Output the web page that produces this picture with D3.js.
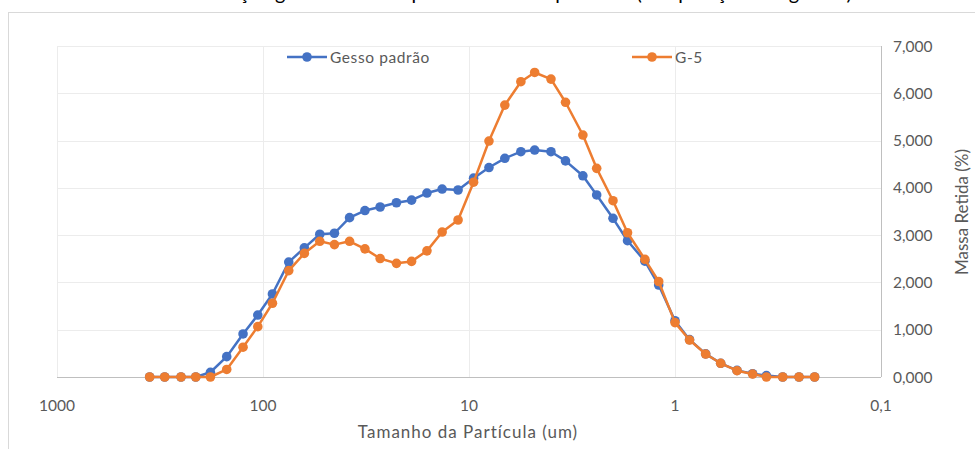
<!DOCTYPE html>
<html>
<head>
<meta charset="utf-8">
<script src="https://cdn.jsdelivr.net/npm/d3@7"></script>
<style>
  body { margin: 0; background: #fff; }
  svg { font-family: Lato, "Open Sans", sans-serif; }
</style>
</head>
<body>
<div class="chart"></div>
<script>
// particle size bins (um)
const sizes = [355, 300, 250, 212, 180, 150, 125, 106, 90, 75, 63, 53, 45, 38, 32, 27, 22.5, 19, 16, 13.5,
  11.3, 9.5, 8, 6.7, 5.6, 4.8, 4, 3.4, 2.8, 2.4, 2, 1.7, 1.4, 1.2, 1, 0.85, 0.71, 0.6, 0.5, 0.42,
  0.36, 0.3, 0.25, 0.21];

const gessoPadrao = [0, 0, 0, 0, 0.10, 0.43, 0.91, 1.31, 1.755, 2.43, 2.73, 3.02, 3.04, 3.37, 3.52, 3.595, 3.685, 3.74, 3.89, 3.975,
  3.955, 4.205, 4.43, 4.625, 4.765, 4.80, 4.765, 4.57, 4.255, 3.85, 3.356, 2.882, 2.45, 1.945, 1.19, 0.79, 0.49, 0.29, 0.14, 0.07,
  0.03, 0, 0, 0];

const g5 = [0, 0, 0, 0, 0, 0.16, 0.63, 1.065, 1.56, 2.25, 2.615, 2.87, 2.80, 2.87, 2.71, 2.505, 2.404, 2.445, 2.668, 3.065,
  3.32, 4.12, 4.99, 5.75, 6.245, 6.44, 6.30, 5.81, 5.117, 4.413, 3.728, 3.051, 2.489, 2.02, 1.15, 0.782, 0.486, 0.29, 0.133, 0.063,
  0, 0, 0, 0];

const seriesNames = ["Gesso padrão", "G-5"];
const seriesColors = ["#4472C4", "#ED7D31"];
const xTicks = [1000, 100, 10, 1, 0.1];
const yTicks = [0, 1, 2, 3, 4, 5, 6, 7];

const width = 975, height = 449;
const ptBR = d3.formatLocale({decimal: ",", thousands: ".", grouping: [3], currency: ["R$", ""]});
const yFmt = ptBR.format(".3f");
const xFmt = d => ptBR.format("~g")(d);

const svg = d3.select('.chart')
  .append('svg')
  .attr('width', width)
  .attr('height', height);

// chart frame
svg.append("rect")
  .attr("x", 8.5).attr("y", 12.5)
  .attr("width", width + 10).attr("height", height)
  .attr("fill", "none").attr("stroke", "#d9d9d9");

// title, cut off at the top like in the source picture
svg.append("text")
  .attr("x", 508).attr("y", 0)
  .attr("text-anchor", "middle")
  .attr("font-size", "20px")
  .attr("fill", "#000")
  .text("Distribuição granulométrica por tamanho de partícula (comparação dos gessos)");

const x = d3.scaleLog().domain([1000, 0.1]).range([57, 881]);
const y = d3.scaleLinear().domain([0, 7]).range([377, 46]);

// gridlines
svg.append("g")
  .selectAll("line")
  .data(yTicks.slice(1))
  .enter()
  .append("line")
  .attr("x1", x(1000)).attr("x2", x(0.1))
  .attr("y1", d => Math.round(y(d)) + 0.5).attr("y2", d => Math.round(y(d)) + 0.5)
  .attr("stroke", "#ececec");

svg.append("g")
  .selectAll("line")
  .data(xTicks.slice(0, 4))
  .enter()
  .append("line")
  .attr("x1", d => Math.round(x(d)) + 0.5).attr("x2", d => Math.round(x(d)) + 0.5)
  .attr("y1", y(7)).attr("y2", y(0))
  .attr("stroke", "#ececec");

// axes lines
svg.append("line")
  .attr("x1", x(1000)).attr("x2", x(0.1))
  .attr("y1", Math.round(y(0)) + 0.5).attr("y2", Math.round(y(0)) + 0.5)
  .attr("stroke", "#bfbfbf");
svg.append("line")
  .attr("x1", Math.round(x(0.1)) + 0.5).attr("x2", Math.round(x(0.1)) + 0.5)
  .attr("y1", y(7)).attr("y2", y(0))
  .attr("stroke", "#bfbfbf");

// tick labels
svg.append("g")
  .selectAll("text")
  .data(yTicks)
  .enter()
  .append("text")
  .attr("x", 893)
  .attr("y", d => y(d) + 5.5)
  .attr("font-size", "15.5px")
  .attr("fill", "#595959")
  .text(d => yFmt(d));

svg.append("g")
  .selectAll("text")
  .data(xTicks)
  .enter()
  .append("text")
  .attr("x", d => x(d))
  .attr("y", 411)
  .attr("text-anchor", "middle")
  .attr("font-size", "15.5px")
  .attr("fill", "#595959")
  .text(d => xFmt(d));

// axis titles
svg.append("text")
  .attr("x", 468).attr("y", 438)
  .attr("text-anchor", "middle")
  .attr("font-size", "17px")
  .attr("letter-spacing", "1px")
  .attr("fill", "#595959")
  .text("Tamanho da Partícula (um)");

svg.append("text")
  .attr("transform", "translate(968,212) rotate(-90)")
  .attr("text-anchor", "middle")
  .attr("font-size", "17px")
  .attr("fill", "#595959")
  .text("Massa Retida (%)");

// series
const series = [gessoPadrao, g5];
const line = d3.line()
  .x((d, i) => x(sizes[i]))
  .y(d => y(d));

series.forEach(function(vals, k) {
  svg.append("path")
    .datum(vals)
    .attr("d", line)
    .attr("fill", "none")
    .attr("stroke", seriesColors[k])
    .attr("stroke-width", 2.5)
    .attr("stroke-linejoin", "round");
  svg.append("g")
    .selectAll("circle")
    .data(vals)
    .enter()
    .append("circle")
    .attr("cx", (d, i) => x(sizes[i]))
    .attr("cy", d => y(d))
    .attr("r", 4.8)
    .attr("fill", seriesColors[k]);
});

// legend
const legendX = [287, 632];
seriesNames.forEach(function(name, k) {
  const g = svg.append("g").attr("transform", `translate(${legendX[k]},57)`);
  g.append("line").attr("x1", 0).attr("x2", 40).attr("y1", 0).attr("y2", 0)
    .attr("stroke", seriesColors[k]).attr("stroke-width", 2.5);
  g.append("circle").attr("cx", 20).attr("cy", 0).attr("r", 4.8).attr("fill", seriesColors[k]);
  g.append("text").attr("x", 43).attr("y", 5.5)
    .attr("font-size", "15.5px").attr("letter-spacing", "0.6px")
    .attr("fill", "#595959").text(name);
});
</script>
</body>
</html>
